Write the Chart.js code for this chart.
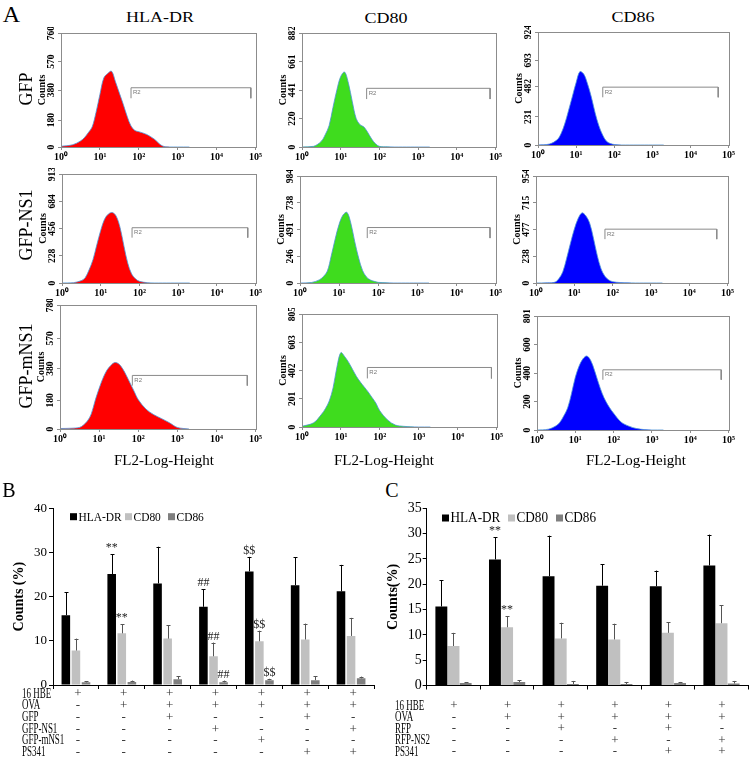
<!DOCTYPE html>
<html>
<head>
<meta charset="utf-8">
<script src="https://cdn.jsdelivr.net/npm/chart.js@4.4.0/dist/chart.umd.min.js"></script>
<style>
body { margin: 0; background: #fff; }
#page { position: relative; width: 753px; height: 774px; overflow: hidden; font-family: "Liberation Serif", "Times New Roman", serif; }
.box { position: absolute; }
.lbl { position: absolute; white-space: nowrap; color: #000; line-height: 1; }
</style>
</head>
<body>
<div id="page"></div>
<script>
// ---- panel A : flow histograms (x in log10 units, y in counts) ----
var logBins = [0, 0.3, 0.5, 0.6, 0.7, 0.8, 0.9, 1.0, 1.1, 1.2, 1.3, 1.4, 1.5, 1.6, 1.7, 1.8, 1.9, 2.0, 2.2, 2.4, 2.6, 2.8, 3.0, 3.3];
var decadeLabels = ['10⁰', '10¹', '10²', '10³', '10⁴', '10⁵'];
var markerNames = ['HLA-DR', 'CD80', 'CD86'];
var constructNames = ['GFP', 'GFP-NS1', 'GFP-mNS1'];

var gfpHla   = [5, 15, 40, 62, 95, 133, 230, 350, 460, 490, 505, 435, 360, 285, 205, 140, 110, 102, 84, 52, 8, 0, 0, 0];
var gfpCd80  = [0, 5, 45, 95, 165, 305, 440, 545, 580, 493, 350, 220, 172, 155, 112, 62, 25, 5, 2, 0, 0, 0, 0, 0];
var gfpCd86  = [0, 8, 42, 90, 171, 280, 395, 510, 600, 580, 500, 392, 262, 155, 80, 30, 12, 4, 0, 0, 0, 0, 0, 0];
var ns1Hla   = [0, 3, 20, 45, 110, 195, 320, 440, 535, 578, 590, 560, 465, 310, 165, 75, 35, 14, 3, 0, 0, 0, 0, 0];
var ns1Cd80  = [0, 5, 30, 60, 110, 250, 405, 540, 625, 650, 550, 380, 230, 115, 55, 28, 15, 6, 3, 0, 0, 0, 0, 0];
var ns1Cd86  = [0, 2, 8, 40, 100, 220, 355, 480, 575, 625, 600, 535, 400, 245, 125, 60, 27, 12, 4, 2, 0, 0, 0, 0];
var mns1Hla  = [3, 5, 10, 25, 50, 95, 180, 255, 320, 370, 400, 418, 410, 380, 335, 285, 235, 185, 125, 90, 65, 39, 10, 0];
var mns1Cd80 = [5, 30, 90, 130, 185, 280, 430, 530, 500, 460, 410, 360, 320, 285, 250, 210, 170, 115, 50, 14, 5, 2, 0, 0];
var mns1Cd86 = [0, 6, 30, 55, 100, 155, 255, 370, 450, 500, 520, 490, 420, 335, 258, 200, 155, 118, 55, 27, 10, 3, 0, 0];

var yTicksA = [
  [[0, 180, 380, 570, 760], [0, 220, 441, 661, 882], [0, 231, 482, 693, 924]],
  [[0, 228, 456, 684, 913], [0, 246, 491, 738, 984], [0, 238, 477, 715, 954]],
  [[0, 180, 380, 570, 780], [0, 201, 402, 603, 805], [0, 200, 400, 600, 801]]
];
// R2 gate: [log start, log end, count of bar, count of end ticks]
var gatesA = [
  [[1.80, 4.88, 395, 325], [1.67, 4.86, 454, 371], [1.70, 4.73, 473, 390]],
  [[1.81, 4.80, 463, 380], [1.72, 4.86, 510, 413], [1.80, 4.72, 480, 391]],
  [[1.85, 4.79, 337, 273], [1.68, 4.87, 424, 346], [1.72, 4.81, 423, 353]]
];
var countsA = [[gfpHla, gfpCd80, gfpCd86], [ns1Hla, ns1Cd80, ns1Cd86], [mns1Hla, mns1Cd80, mns1Cd86]];

// ---- panel B ----
var groupsB = ['B1', 'B2', 'B3', 'B4', 'B5', 'B6', 'B7'];
var hlaB = [15.8, 25.1, 23.0, 17.7, 25.7, 22.6, 21.2];
var hlaSdB = [5.2, 4.5, 8.3, 4.0, 3.3, 6.3, 6.0];
var cd80B = [7.8, 11.7, 10.5, 6.5, 9.9, 10.3, 11.1];
var cd80SdB = [2.7, 2.1, 3.0, 3.1, 2.4, 3.6, 4.1];
var cd86B = [0.6, 0.7, 1.3, 0.6, 1.1, 1.1, 1.5];
var cd86SdB = [0.3, 0.3, 0.7, 0.4, 0.3, 0.9, 0.4];
var hlaMarkB = ['', '**', '', '##', '$$', '', ''];
var cd80MarkB = ['', '**', '', '##', '$$', '', ''];
var cd86MarkB = ['', '', '', '##', '$$', '', ''];
var rowNamesB = ['16 HBE', 'OVA', 'GFP', 'GFP-NS1', 'GFP-mNS1', 'PS341'];
var tableB = [
  ['+', '+', '+', '+', '+', '+', '+'],
  ['-', '+', '+', '+', '+', '+', '+'],
  ['-', '-', '+', '-', '-', '+', '-'],
  ['-', '-', '-', '+', '-', '-', '+'],
  ['-', '-', '-', '-', '+', '-', '-'],
  ['-', '-', '-', '-', '-', '+', '+']
];

// ---- panel C ----
var groupsC = ['C1', 'C2', 'C3', 'C4', 'C5', 'C6'];
var hlaC = [15.6, 24.9, 21.6, 19.7, 19.6, 23.7];
var hlaSdC = [5.2, 4.4, 8.0, 4.2, 3.1, 6.1];
var cd80C = [7.8, 11.5, 9.3, 9.1, 10.4, 12.3];
var cd80SdC = [2.6, 2.2, 3.1, 3.1, 2.1, 3.6];
var cd86C = [0.5, 0.7, 0.3, 0.3, 0.5, 0.4];
var cd86SdC = [0.1, 0.3, 0.6, 0.4, 0.2, 0.5];
var hlaMarkC = ['', '**', '', '', '', ''];
var cd80MarkC = ['', '**', '', '', '', ''];
var cd86MarkC = ['', '', '', '', '', ''];
var rowNamesC = ['16 HBE', 'OVA', 'RFP', 'RFP-NS2', 'PS341'];
var tableC = [
  ['+', '+', '+', '+', '+', '+'],
  ['-', '+', '+', '+', '+', '+'],
  ['-', '-', '+', '-', '+', '-'],
  ['-', '-', '-', '+', '-', '+'],
  ['-', '-', '-', '-', '+', '+']
];

var SERIF = '"Liberation Serif", "Times New Roman", serif';
Chart.defaults.font.family = SERIF;
Chart.defaults.color = '#000';
Chart.defaults.animation = false;
Chart.defaults.plugins.legend.display = false;
Chart.defaults.plugins.tooltip.enabled = false;

var page = document.getElementById('page');

function addText(txt, x, y, size, tf, weight) {
  var d = document.createElement('div');
  d.className = 'lbl';
  d.textContent = txt;
  d.style.fontSize = size + 'px';
  if (weight) d.style.fontWeight = weight;
  d.style.left = x + 'px';
  d.style.top = y + 'px';
  d.style.transform = 'translate(-50%,-50%)' + (tf ? ' ' + tf : '');
  page.appendChild(d);
}

function addCanvas(l, t, w, h) {
  var d = document.createElement('div');
  d.className = 'box';
  d.style.left = l + 'px';
  d.style.top = t + 'px';
  d.style.width = w + 'px';
  d.style.height = h + 'px';
  var c = document.createElement('canvas');
  d.appendChild(c);
  page.appendChild(d);
  return c;
}

// frame box, rotated count labels and the R2 text
var histPlugin = {
  id: 'histFrame',
  afterDraw: function(chart) {
    var ctx = chart.ctx, a = chart.chartArea, xs = chart.scales.x, ys = chart.scales.y;
    ctx.save();
    ctx.strokeStyle = '#8c8c8c';
    ctx.lineWidth = 1;
    ctx.strokeRect(Math.round(a.left) + 0.5, Math.round(a.top) + 0.5, Math.round(a.right - a.left), Math.round(a.bottom - a.top));
    ctx.fillStyle = '#000';
    ctx.font = 'bold 9.5px ' + SERIF;
    ctx.textAlign = 'center';
    ctx.textBaseline = 'middle';
    ys.ticks.forEach(function(t) {
      ctx.save();
      ctx.translate(a.left - 9, ys.getPixelForValue(t.value));
      ctx.rotate(-Math.PI / 2);
      ctx.fillText(String(t.value), 0, 0);
      ctx.restore();
    });
    var g = chart.data.datasets[1].data;
    ctx.fillStyle = '#777';
    ctx.font = '6px "Liberation Sans", sans-serif';
    ctx.textAlign = 'left';
    ctx.fillText('R2', xs.getPixelForValue(g[0].x) + 2, ys.getPixelForValue(g[1].y) + 5);
    ctx.restore();
  }
};

var histColors = ['#ff0000', '#3fdc1e', '#0000ff'];
var framesA = [
  [[61, 33, 258, 147], [302, 33, 498, 147], [538, 32, 731, 145]],
  [[62, 174, 258, 283], [300, 176, 498, 283], [536, 176, 730, 283]],
  [[60, 305, 258, 429], [302, 314, 499, 427], [537, 316, 731, 430]]
];

function makeHist(frame, counts, yTicks, gate, color) {
  var pl = 34, pt = 6, pr = 5, pb = 18;
  var c = addCanvas(frame[0] - pl, frame[1] - pt, frame[2] - frame[0] + pl + pr, frame[3] - frame[1] + pt + pb);
  new Chart(c, {
    type: 'line',
    data: {
      datasets: [{
        data: logBins.map(function(x, i) { return { x: x, y: counts[i] }; }),
        fill: 'origin',
        backgroundColor: color,
        borderColor: '#4b93d6',
        borderWidth: 0.8,
        pointRadius: 0,
        tension: 0.35
      }, {
        data: [{ x: gate[0], y: gate[3] }, { x: gate[0], y: gate[2] }, { x: gate[1], y: gate[2] }, { x: gate[1], y: gate[3] }],
        fill: false,
        borderColor: '#8a8a8a',
        borderWidth: 1,
        pointRadius: 0
      }]
    },
    options: {
      responsive: true,
      maintainAspectRatio: false,
      layout: { padding: { top: pt, right: pr, left: 0, bottom: 0 } },
      scales: {
        x: {
          type: 'linear', min: 0, max: 5,
          afterFit: function(s) { s.height = pb; },
          afterBuildTicks: function(s) { s.ticks = [0, 1, 2, 3, 4, 5].map(function(v) { return { value: v }; }); },
          ticks: { callback: function(v) { return decadeLabels[v]; }, font: { size: 10, weight: 'bold' }, padding: 1, maxRotation: 0, autoSkip: false },
          grid: { drawOnChartArea: false, tickLength: 3, color: '#8c8c8c' },
          border: { color: '#8c8c8c' }
        },
        y: {
          min: 0, max: yTicks[yTicks.length - 1],
          afterFit: function(s) { s.width = pl; },
          afterBuildTicks: function(s) { s.ticks = yTicks.map(function(v) { return { value: v }; }); },
          ticks: { display: false },
          grid: { drawOnChartArea: false, tickLength: 3, color: '#8c8c8c' },
          border: { color: '#8c8c8c' },
          title: { display: true, text: 'Counts', font: { size: 10, weight: 'bold' }, padding: { top: 9, bottom: 0 } }
        }
      }
    },
    plugins: [histPlugin]
  });
}

for (var r = 0; r < 3; r++) {
  for (var k = 0; k < 3; k++) {
    makeHist(framesA[r][k], countsA[r][k], yTicksA[r][k], gatesA[r][k], histColors[k]);
  }
}

addText('A', 11.5, 14, 24);
addText(markerNames[0], 160, 17, 18, 'scale(1,0.85)');
addText(markerNames[1], 386, 18, 18, 'scale(1,0.85)');
addText(markerNames[2], 633, 17, 18, 'scale(1,0.85)');
addText(constructNames[0], 26, 89, 18, 'rotate(-90deg)');
addText(constructNames[1], 26, 225, 18, 'rotate(-90deg)');
addText(constructNames[2], 26, 366, 18, 'rotate(-90deg)');
addText('FL2-Log-Height', 164, 460, 15);
addText('FL2-Log-Height', 384, 460, 15);
addText('FL2-Log-Height', 636, 460, 15);
addText('B', 9, 490, 20);
addText('C', 392, 490, 20);

// ---- bar charts with error bars, marks, legend and condition table ----
function squeezedText(ctx, txt, x, y, sx) {
  ctx.save();
  ctx.translate(x, y);
  ctx.scale(sx, 1);
  ctx.fillText(txt, 0, 0);
  ctx.restore();
}

var barPlugin = {
  id: 'barExtras',
  afterDatasetsDraw: function(chart) {
    var ctx = chart.ctx, ys = chart.scales.y, xs = chart.scales.x, o = chart.options.extra;
    ctx.save();
    chart.data.datasets.forEach(function(ds, di) {
      var meta = chart.getDatasetMeta(di);
      meta.data.forEach(function(bar, i) {
        var top = ys.getPixelForValue(ds.data[i] + ds.sd[i]);
        ctx.strokeStyle = ds.errColor;
        ctx.lineWidth = 1;
        ctx.beginPath();
        ctx.moveTo(Math.round(bar.x) + 0.5, bar.y);
        ctx.lineTo(Math.round(bar.x) + 0.5, top);
        ctx.moveTo(Math.round(bar.x) - 1.5, Math.round(top) + 0.5);
        ctx.lineTo(Math.round(bar.x) + 2.5, Math.round(top) + 0.5);
        ctx.stroke();
        if (ds.marks[i]) {
          ctx.fillStyle = '#222';
          ctx.font = o.markFont + 'px ' + SERIF;
          ctx.textAlign = 'center';
          ctx.textBaseline = 'middle';
          ctx.fillText(ds.marks[i], bar.x, top - 6);
        }
      });
    });
    // legend
    ctx.font = o.legendFont + 'px ' + SERIF;
    ctx.textAlign = 'left';
    ctx.textBaseline = 'middle';
    chart.data.datasets.forEach(function(ds, di) {
      var lx = o.legendX[di] - o.left, ly = o.legendY - o.top;
      ctx.fillStyle = ds.backgroundColor;
      ctx.fillRect(lx, ly - 3.5, 7, 7);
      ctx.fillStyle = '#000';
      squeezedText(ctx, ds.label, lx + 8.5, ly + 0.5, o.legendSx);
    });
    // condition table under the axis
    ctx.textBaseline = 'middle';
    o.rows.forEach(function(name, ri) {
      var ty = o.tableTop + ri * o.tableStep - o.top;
      ctx.font = '14px ' + SERIF;
      ctx.fillStyle = '#000';
      ctx.textAlign = 'left';
      squeezedText(ctx, name, o.labelX - o.left, ty, 0.64);
      ctx.font = '13px ' + SERIF;
      ctx.textAlign = 'center';
      ctx.fillStyle = '#333';
      o.table[ri].forEach(function(sym, ci) {
        ctx.fillText(sym, xs.getPixelForValue(ci) + o.tableShift, ty);
      });
    });
    ctx.restore();
  }
};

function makeBars(cfg) {
  var L = cfg.box[0], T = cfg.box[1], W = cfg.box[2], H = cfg.box[3];
  var c = addCanvas(L, T, W, H);
  var yw = cfg.area[0] - L, padT = cfg.area[1] - T, padR = L + W - cfg.area[2], padB = T + H - cfg.area[3] - 4;
  var colors = ['#000000', '#c0c0c0', '#7f7f7f'];
  var errColors = ['#000000', '#555555', '#555555'];
  new Chart(c, {
    type: 'bar',
    data: {
      labels: cfg.groups,
      datasets: cfg.series.map(function(s, i) {
        return {
          label: markerNames[i], data: s[0], sd: s[1], marks: s[2],
          backgroundColor: colors[i], errColor: errColors[i],
          categoryPercentage: cfg.catPct, barPercentage: cfg.barPct
        };
      })
    },
    options: {
      responsive: true,
      maintainAspectRatio: false,
      layout: { padding: { top: padT, right: padR, left: 0, bottom: padB } },
      extra: {
        left: L, top: T, rows: cfg.rows, table: cfg.table, tableTop: cfg.tableTop, tableStep: cfg.tableStep,
        labelX: cfg.labelX, tableShift: cfg.tableShift, legendX: cfg.legendX, legendY: cfg.legendY,
        legendFont: cfg.legendFont, legendSx: cfg.legendSx, markFont: 12
      },
      scales: {
        x: {
          afterFit: function(s) { s.height = 4; },
          ticks: { display: false },
          grid: { offset: true, drawOnChartArea: false, tickLength: 4, color: '#000' },
          border: { color: '#000' }
        },
        y: {
          min: 0, max: cfg.yMax,
          afterFit: function(s) { s.width = yw; },
          ticks: { stepSize: cfg.yStep, font: { size: cfg.tickFont }, padding: cfg.tickPad },
          grid: { drawOnChartArea: false, tickLength: 4, color: '#000' },
          border: { color: '#000' },
          title: { display: true, text: cfg.yTitle, font: { size: 14, weight: 'bold' }, padding: { top: cfg.titlePad, bottom: 0 } }
        }
      }
    },
    plugins: [barPlugin]
  });
}

makeBars({
  box: [0, 480, 376, 294], area: [53, 508.3, 374, 685],
  groups: groupsB,
  series: [[hlaB, hlaSdB, hlaMarkB], [cd80B, cd80SdB, cd80MarkB], [cd86B, cd86SdB, cd86MarkB]],
  catPct: 0.66, barPct: 0.85, yMax: 40, yStep: 10, tickFont: 13, tickPad: 2,
  yTitle: 'Counts (%)', titlePad: 10.6,
  rows: rowNamesB, table: tableB, tableTop: 694, tableStep: 11.7, labelX: 22, tableShift: 2,
  legendX: [70, 125, 168], legendY: 516.7, legendFont: 13, legendSx: 0.88
});

makeBars({
  box: [376, 480, 377, 294], area: [426.7, 508.3, 748.3, 685.5],
  groups: groupsC,
  series: [[hlaC, hlaSdC, hlaMarkC], [cd80C, cd80SdC, cd80MarkC], [cd86C, cd86SdC, cd86MarkC]],
  catPct: 0.68, barPct: 0.98, yMax: 35, yStep: 5, tickFont: 14, tickPad: 1,
  yTitle: 'Counts(%)', titlePad: 8.6,
  rows: rowNamesC, table: tableC, tableTop: 706, tableStep: 11.5, labelX: 395, tableShift: 0.5,
  legendX: [442, 508, 556], legendY: 518, legendFont: 15, legendSx: 0.88
});
</script>
</body>
</html>
